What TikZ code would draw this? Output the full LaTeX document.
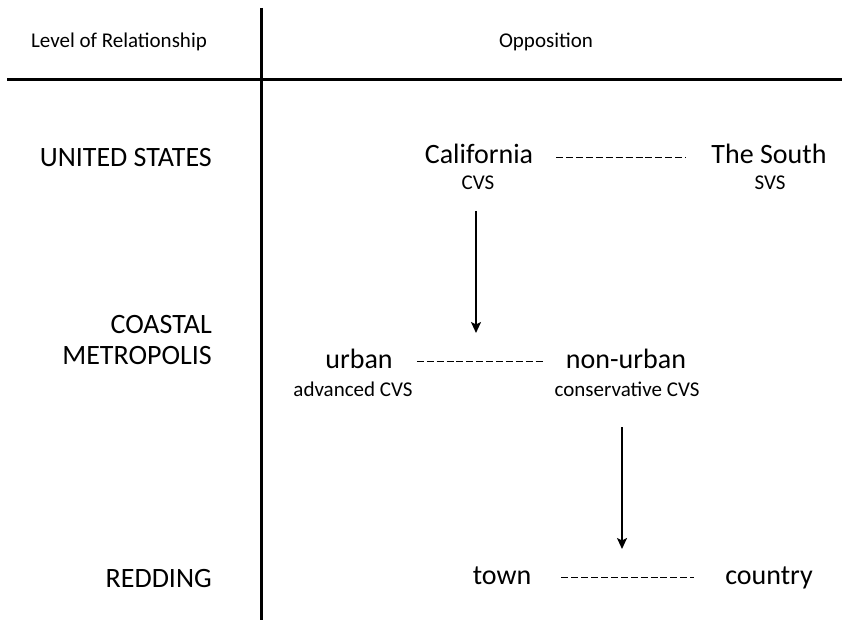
\documentclass[tikz,border=0pt]{standalone}
\usepackage{fontspec}
\setmainfont{Carlito}
\usetikzlibrary{arrows.meta}
\begin{document}
\begin{tikzpicture}[x=1pt,y=-1pt,
  rule/.style={line width=3pt,black},
  head/.style={font=\fontsize{21}{24}\selectfont,inner sep=0pt,anchor=base},
  level/.style={font=\fontsize{28}{31}\selectfont,inner sep=0pt,anchor=base east,align=right},
  big/.style={font=\fontsize{28}{31}\selectfont,inner sep=0pt,anchor=base,text height=19pt,text depth=6pt},
  small/.style={font=\fontsize{21}{24}\selectfont,inner sep=0pt,anchor=base},
  dashconn/.style={line width=1.8pt,dash pattern=on 7pt off 2.9pt},
  arr/.style={line width=2pt,-{Stealth[length=11pt,width=10pt,inset=2.5pt]}}
]
\fill[white] (0,0) rectangle (842,620);
\useasboundingbox (0,0) rectangle (842,620);

% table rules
\coordinate (vtop) at (261,8);
\coordinate (vbot) at (261,620);
\coordinate (hl) at (7,80);
\coordinate (hr) at (842,80);
\draw[rule] (vtop) -- (vbot);
\draw[rule] (hl) -- (hr);

% header
\node[head] (hlevel) at (119,48) {Level of Relationship};
\node[head] (hopp) at (546,48) {Opposition};

% level labels
\node[level] (us) at (212,167) {UNITED STATES};
\node[level] (coastal) at (212,364) {COASTAL\\METROPOLIS};
\node[level] (redding) at (212,587) {REDDING};

% row 1
\node[big] (cal) at (479,164) {California};
\node[small] (cvs) at (478,190) {CVS};
\node[big] (south) at (769,164) {The South};
\node[small] (svs) at (770,190) {SVS};
\draw[dashconn,shorten <=23pt,shorten >=25pt] (cal.east) -- (south.west);

% row 2
\node[big] (urban) at (359,368) {urban};
\node[small] (adv) at (353,396) {advanced CVS};
\node[big] (nonurban) at (626,368) {non-urban};
\node[small] (cons) at (627,396) {conservative CVS};
\draw[dashconn,shorten <=24pt,shorten >=23pt] (urban.east) -- (nonurban.west);

% row 3
\node[big] (town) at (502,584) {town};
\node[big] (country) at (769,584) {country};
\draw[dashconn,shorten <=30pt,shorten >=31pt] (town.east) -- (country.west);

% arrows
\coordinate (a1s) at (476,211);
\coordinate (a1e) at (476,333);
\coordinate (a2s) at (622,427);
\coordinate (a2e) at (622,549);
\draw[arr] (a1s) -- (a1e);
\draw[arr] (a2s) -- (a2e);
\end{tikzpicture}
\end{document}
